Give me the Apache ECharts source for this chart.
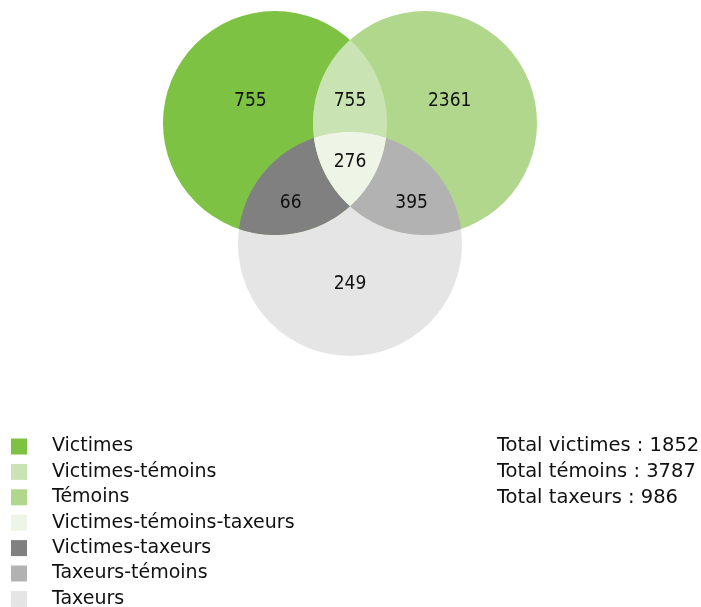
<!DOCTYPE html>
<html><head><meta charset="utf-8">
<script src="https://cdn.jsdelivr.net/npm/echarts@6.0.0/dist/echarts.min.js"></script>
<style>html,body{margin:0;padding:0;background:#fff}#c{width:701px;height:607px}</style>
</head><body><div id="c"></div>
<script>
// ---- data ----
const regionNames = ['Victimes','Victimes-témoins','Témoins','Victimes-témoins-taxeurs','Victimes-taxeurs','Taxeurs-témoins','Taxeurs'];
const regionValues = [755, 755, 2361, 276, 66, 395, 249];
const regionSets = ['A','AB','B','ABC','AC','BC','C'];
const totalLabels = ['Total victimes','Total témoins','Total taxeurs'];
const totalValues = [1852, 3787, 986];

// ---- geometry & style (not data) ----
const centers = {A:[-0.67,0], B:[0.67,0], C:[0,-1.08]};
const labelPos = [[-0.89,0.196],[0,0.196],[0.89,0.196],[0,-0.348],[-0.53,-0.713],[0.55,-0.713],[0,-1.438]];
const colors = ['#7dc242','#c9e4b2','#b0d78b','#eef5e6','#808080','#b2b2b2','#e5e5e5'];
const drawZ = [2,6,3,7,4,5,1];
const FONTC = "'DejaVu Sans Condensed','DejaVu Sans',sans-serif";
const FONT = "'DejaVu Sans',sans-serif";
const TXT = '#111';

function arcPoints(c, r, p0, p1, n) {
  const a0 = Math.atan2(p0[1]-c[1], p0[0]-c[0]);
  const a1 = Math.atan2(p1[1]-c[1], p1[0]-c[0]);
  let d = a1 - a0;
  while (d > Math.PI) d -= 2*Math.PI;
  while (d < -Math.PI) d += 2*Math.PI;
  const pts = [];
  for (let i = 0; i <= n; i++) { const a = a0 + d*i/n; pts.push([c[0]+r*Math.cos(a), c[1]+r*Math.sin(a)]); }
  return pts;
}
function inter(P, Q, r) {
  const dx = Q[0]-P[0], dy = Q[1]-P[1], d = Math.hypot(dx, dy);
  const h = Math.sqrt(r*r - d*d/4), mx = (P[0]+Q[0])/2, my = (P[1]+Q[1])/2;
  const nx = -dy/d, ny = dx/d;
  return [[mx+h*nx, my+h*ny], [mx-h*nx, my-h*ny]];
}
function inside(p, c, r) { return Math.hypot(p[0]-c[0], p[1]-c[1]) < r; }

function makeRender(i) {
  return function (params, api) {
    const r = api.size([1,1])[0];
    const P = {A: api.coord(centers.A), B: api.coord(centers.B), C: api.coord(centers.C)};
    const key = regionSets[i];
    const style = {fill: colors[i], stroke: null};
    if (key.length === 1) {
      return {type:'circle', shape:{cx:P[key][0], cy:P[key][1], r:r}, style:style};
    }
    if (key.length === 2) {
      const a = P[key[0]], b = P[key[1]];
      const [i1, i2] = inter(a, b, r);
      const pts = arcPoints(a, r, i1, i2, 60).concat(arcPoints(b, r, i2, i1, 60));
      return {type:'polygon', shape:{points:pts}, style:style};
    }
    const pick = (x, y, z) => inter(P[x], P[y], r).find(p => inside(p, P[z], r + 0.5));
    const pAB = pick('A','B','C'), pAC = pick('A','C','B'), pBC = pick('B','C','A');
    const pts = arcPoints(P.A, r, pAB, pAC, 40)
      .concat(arcPoints(P.C, r, pAC, pBC, 40))
      .concat(arcPoints(P.B, r, pBC, pAB, 40));
    return {type:'polygon', shape:{points:pts}, style:style};
  };
}

const series = regionNames.map((name, i) => ({
  type: 'custom', name: name, coordinateSystem: 'cartesian2d', z: drawZ[i],
  clip: false, silent: true,
  itemStyle: {color: colors[i]},
  data: [[labelPos[i][0], labelPos[i][1], regionValues[i]]],
  renderItem: makeRender(i)
}));
series.push({
  type: 'custom', name: 'labels', coordinateSystem: 'cartesian2d', z: 20, clip: false, silent: true,
  data: labelPos.map((p, i) => [p[0], p[1], regionValues[i]]),
  renderItem: function (params, api) {
    const c = api.coord([api.value(0), api.value(1)]);
    return {type:'text', x:c[0], y:c[1], style:{text: String(api.value(2)), fill: TXT,
      font: "19px " + FONTC, align:'center', verticalAlign:'middle'}};
  }
});

const option = {
  animation: false,
  backgroundColor: '#fff',
  grid: {left: 14, top: 11, width: 672, height: 392},
  xAxis: {type:'value', min:-3, max:3, show:false},
  yAxis: {type:'value', min:-2.5, max:1, show:false},
  title: {
    text: totalLabels.map((l, i) => l + ' : ' + totalValues[i]).join('\n'),
    left: 497, top: 433, padding: 0,
    textStyle: {fontFamily: FONT, fontSize: 19.5, fontWeight: 'normal', color: TXT, lineHeight: 26}
  },
  legend: {
    orient: 'vertical', left: 11, top: 437, padding: 0, height: 200,
    itemWidth: 16, itemHeight: 16, itemGap: 6.4, icon: 'rect', selectedMode: false,
    data: regionNames,
    formatter: '{g|}{t|{name}}',
    textStyle: {fontFamily: FONT, fontSize: 19, color: TXT,
      rich: {g: {width: 20}, t: {fontFamily: FONT, fontSize: 19, color: TXT}}}
  },
  series: series
};
const chart = echarts.init(document.getElementById('c'), null, {renderer: 'canvas'});
chart.setOption(option);
</script>
</body></html>
